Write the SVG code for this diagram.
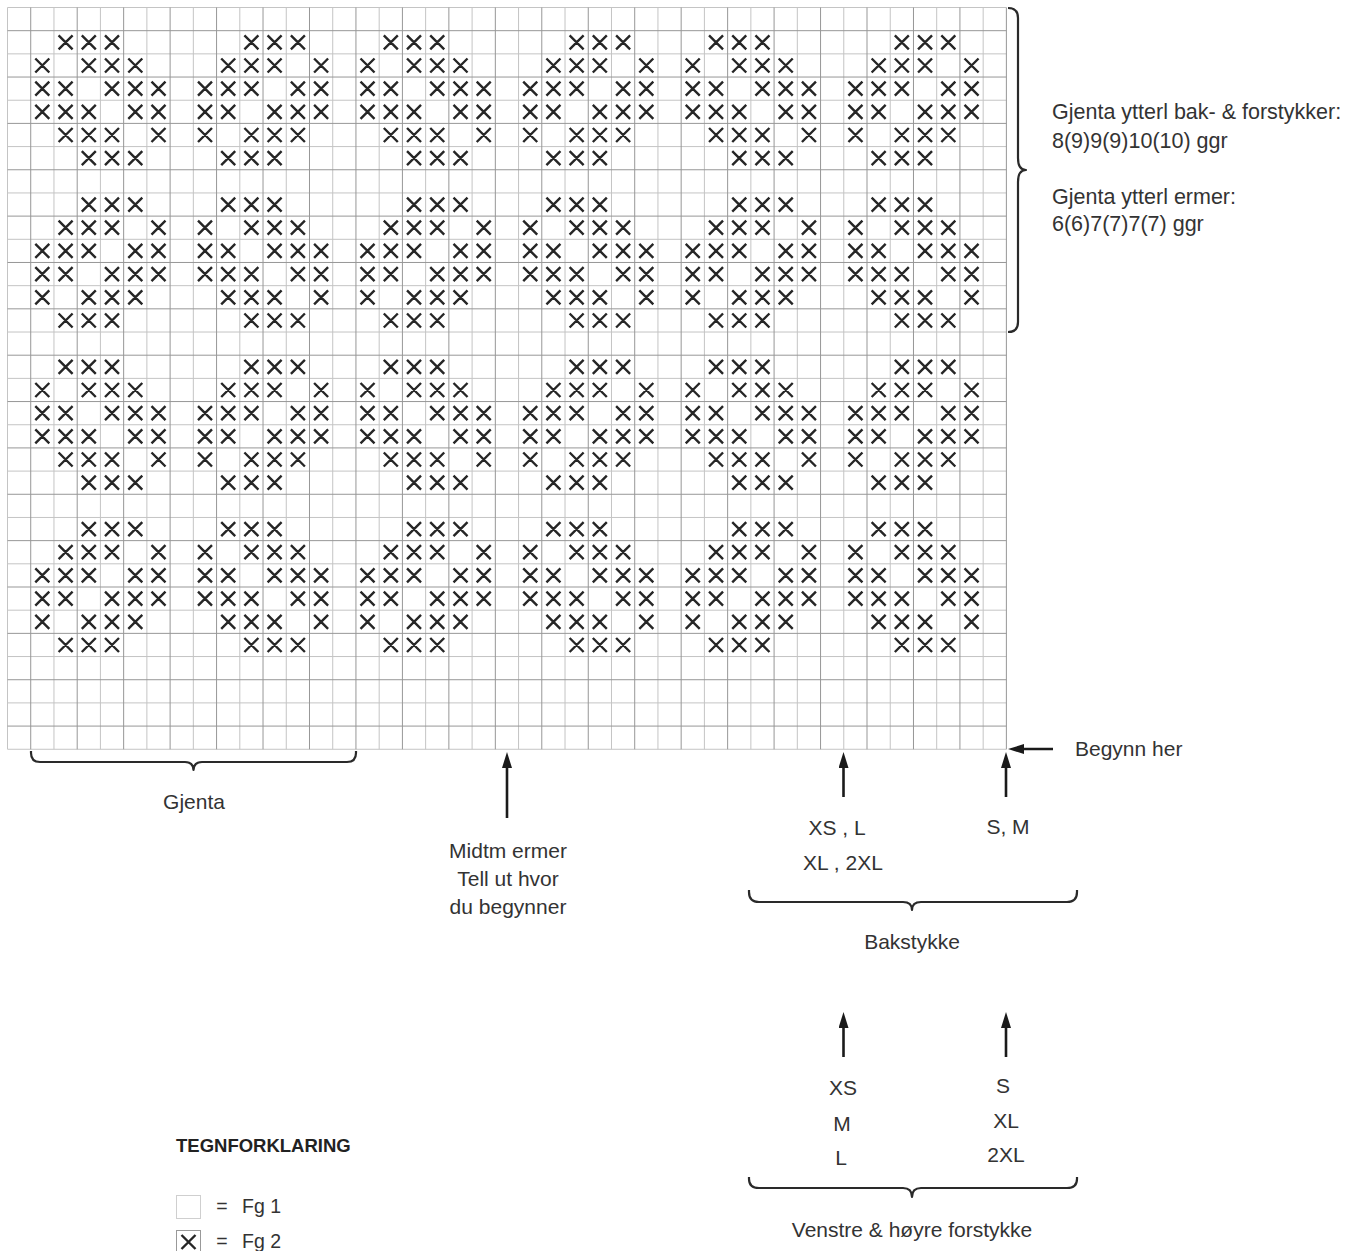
<svg xmlns="http://www.w3.org/2000/svg" width="1361" height="1251" viewBox="0 0 1361 1251">
<style>
.gl{stroke:#c4c4c4;stroke-width:1;fill:none}
.gd{stroke:#979797;stroke-width:1;fill:none}
.xm{stroke:#262626;stroke-width:2.4;fill:none}
.br{stroke:#2a2a2a;stroke-width:2.2;fill:none;stroke-linejoin:round}
.ar{stroke:#1a1a1a;stroke-width:2.6;fill:none}
text{font-family:"Liberation Sans",Arial,sans-serif;font-size:21px;fill:#333}
.c{text-anchor:middle}
.b{font-weight:bold;font-size:18.5px;fill:#222}
.lg{font-size:19.5px}
</style>
<defs>
<marker id="ah" markerUnits="userSpaceOnUse" viewBox="0 0 16 10" refX="4" refY="5" markerWidth="16" markerHeight="10" orient="auto"><path d="M0,0L16,5L0,10z" fill="#1a1a1a"/></marker>
<g id="motif" class="xm">
<path d="M51.1,4.6l14,14m0,-14l-14,14M74.3,4.6l14,14m0,-14l-14,14M97.5,4.6l14,14m0,-14l-14,14M236.9,4.6l14,14m0,-14l-14,14M260.1,4.6l14,14m0,-14l-14,14M283.4,4.6l14,14m0,-14l-14,14"/>
<path d="M27.8,27.8l14,14m0,-14l-14,14M74.3,27.8l14,14m0,-14l-14,14M97.5,27.8l14,14m0,-14l-14,14M120.8,27.8l14,14m0,-14l-14,14M213.7,27.8l14,14m0,-14l-14,14M236.9,27.8l14,14m0,-14l-14,14M260.1,27.8l14,14m0,-14l-14,14M306.6,27.8l14,14m0,-14l-14,14"/>
<path d="M27.8,51l14,14m0,-14l-14,14M51.1,51l14,14m0,-14l-14,14M97.5,51l14,14m0,-14l-14,14M120.8,51l14,14m0,-14l-14,14M144,51l14,14m0,-14l-14,14M190.5,51l14,14m0,-14l-14,14M213.7,51l14,14m0,-14l-14,14M236.9,51l14,14m0,-14l-14,14M283.4,51l14,14m0,-14l-14,14M306.6,51l14,14m0,-14l-14,14"/>
<path d="M27.8,74.1l14,14m0,-14l-14,14M51.1,74.1l14,14m0,-14l-14,14M74.3,74.1l14,14m0,-14l-14,14M120.8,74.1l14,14m0,-14l-14,14M144,74.1l14,14m0,-14l-14,14M190.5,74.1l14,14m0,-14l-14,14M213.7,74.1l14,14m0,-14l-14,14M260.1,74.1l14,14m0,-14l-14,14M283.4,74.1l14,14m0,-14l-14,14M306.6,74.1l14,14m0,-14l-14,14"/>
<path d="M51.1,97.3l14,14m0,-14l-14,14M74.3,97.3l14,14m0,-14l-14,14M97.5,97.3l14,14m0,-14l-14,14M144,97.3l14,14m0,-14l-14,14M190.5,97.3l14,14m0,-14l-14,14M236.9,97.3l14,14m0,-14l-14,14M260.1,97.3l14,14m0,-14l-14,14M283.4,97.3l14,14m0,-14l-14,14"/>
<path d="M74.3,120.5l14,14m0,-14l-14,14M97.5,120.5l14,14m0,-14l-14,14M120.8,120.5l14,14m0,-14l-14,14M213.7,120.5l14,14m0,-14l-14,14M236.9,120.5l14,14m0,-14l-14,14M260.1,120.5l14,14m0,-14l-14,14"/>
<path d="M74.3,166.9l14,14m0,-14l-14,14M97.5,166.9l14,14m0,-14l-14,14M120.8,166.9l14,14m0,-14l-14,14M213.7,166.9l14,14m0,-14l-14,14M236.9,166.9l14,14m0,-14l-14,14M260.1,166.9l14,14m0,-14l-14,14"/>
<path d="M51.1,190l14,14m0,-14l-14,14M74.3,190l14,14m0,-14l-14,14M97.5,190l14,14m0,-14l-14,14M144,190l14,14m0,-14l-14,14M190.5,190l14,14m0,-14l-14,14M236.9,190l14,14m0,-14l-14,14M260.1,190l14,14m0,-14l-14,14M283.4,190l14,14m0,-14l-14,14"/>
<path d="M27.8,213.2l14,14m0,-14l-14,14M51.1,213.2l14,14m0,-14l-14,14M74.3,213.2l14,14m0,-14l-14,14M120.8,213.2l14,14m0,-14l-14,14M144,213.2l14,14m0,-14l-14,14M190.5,213.2l14,14m0,-14l-14,14M213.7,213.2l14,14m0,-14l-14,14M260.1,213.2l14,14m0,-14l-14,14M283.4,213.2l14,14m0,-14l-14,14M306.6,213.2l14,14m0,-14l-14,14"/>
<path d="M27.8,236.4l14,14m0,-14l-14,14M51.1,236.4l14,14m0,-14l-14,14M97.5,236.4l14,14m0,-14l-14,14M120.8,236.4l14,14m0,-14l-14,14M144,236.4l14,14m0,-14l-14,14M190.5,236.4l14,14m0,-14l-14,14M213.7,236.4l14,14m0,-14l-14,14M236.9,236.4l14,14m0,-14l-14,14M283.4,236.4l14,14m0,-14l-14,14M306.6,236.4l14,14m0,-14l-14,14"/>
<path d="M27.8,259.6l14,14m0,-14l-14,14M74.3,259.6l14,14m0,-14l-14,14M97.5,259.6l14,14m0,-14l-14,14M120.8,259.6l14,14m0,-14l-14,14M213.7,259.6l14,14m0,-14l-14,14M236.9,259.6l14,14m0,-14l-14,14M260.1,259.6l14,14m0,-14l-14,14M306.6,259.6l14,14m0,-14l-14,14"/>
<path d="M51.1,282.8l14,14m0,-14l-14,14M74.3,282.8l14,14m0,-14l-14,14M97.5,282.8l14,14m0,-14l-14,14M236.9,282.8l14,14m0,-14l-14,14M260.1,282.8l14,14m0,-14l-14,14M283.4,282.8l14,14m0,-14l-14,14"/>
</g>
</defs>
<rect width="1361" height="1251" fill="#fff"/>
<g id="chart-grid">
<path class="gl" d="M7.5,7.5V749.26M53.96,7.5V749.26M100.42,7.5V749.26M146.88,7.5V749.26M193.34,7.5V749.26M239.8,7.5V749.26M286.26,7.5V749.26M332.72,7.5V749.26M379.18,7.5V749.26M425.64,7.5V749.26M472.1,7.5V749.26M518.56,7.5V749.26M565.02,7.5V749.26M611.48,7.5V749.26M657.94,7.5V749.26M704.4,7.5V749.26M750.86,7.5V749.26M797.32,7.5V749.26M843.78,7.5V749.26M890.24,7.5V749.26M936.7,7.5V749.26M983.16,7.5V749.26"/>
<path class="gl" d="M7.5,7.5H1006.39M7.5,53.86H1006.39M7.5,100.22H1006.39M7.5,146.58H1006.39M7.5,192.94H1006.39M7.5,239.3H1006.39M7.5,285.66H1006.39M7.5,332.02H1006.39M7.5,378.38H1006.39M7.5,424.74H1006.39M7.5,471.1H1006.39M7.5,517.46H1006.39M7.5,563.82H1006.39M7.5,610.18H1006.39M7.5,656.54H1006.39M7.5,702.9H1006.39M7.5,749.26H1006.39"/>
<path class="gd" d="M30.73,7.5V749.26M77.19,7.5V749.26M123.65,7.5V749.26M170.11,7.5V749.26M216.57,7.5V749.26M263.03,7.5V749.26M309.49,7.5V749.26M355.95,7.5V749.26M402.41,7.5V749.26M448.87,7.5V749.26M495.33,7.5V749.26M541.79,7.5V749.26M588.25,7.5V749.26M634.71,7.5V749.26M681.17,7.5V749.26M727.63,7.5V749.26M774.09,7.5V749.26M820.55,7.5V749.26M867.01,7.5V749.26M913.47,7.5V749.26M959.93,7.5V749.26M1006.39,7.5V749.26"/>
<path class="gd" d="M7.5,30.68H1006.39M7.5,77.04H1006.39M7.5,123.4H1006.39M7.5,169.76H1006.39M7.5,216.12H1006.39M7.5,262.48H1006.39M7.5,308.84H1006.39M7.5,355.2H1006.39M7.5,401.56H1006.39M7.5,447.92H1006.39M7.5,494.28H1006.39M7.5,540.64H1006.39M7.5,587H1006.39M7.5,633.36H1006.39M7.5,679.72H1006.39M7.5,726.08H1006.39"/>
</g>
<g id="chart-marks">
<use href="#motif" transform="translate(7.5,30.68)"/>
<use href="#motif" transform="translate(332.72,30.68)"/>
<use href="#motif" transform="translate(657.94,30.68)"/>
<use href="#motif" transform="translate(7.5,355.2)"/>
<use href="#motif" transform="translate(332.72,355.2)"/>
<use href="#motif" transform="translate(657.94,355.2)"/>
</g>
<g id="braces">
<path id="brace-right" class="br" d="M1008,8q10,0 10,10V158q0,12 8,12q-8,0 -8,12V322q0,10 -10,10"/>
<path id="brace-gjenta" class="br" d="M31,751v2q0,9 9,9H185q8,0 8.5,8q0.5,-8 8.5,-8H347q9,0 9,-9v-2"/>
<path id="brace-bak" class="br" d="M749,890v2q0,10 10,10H903q9,0 9,8q0,-8 9,-8H1067q10,0 10,-10v-2"/>
<path id="brace-for" class="br" d="M749,1177v2q0,9 10,9H903q9,0 9,9q0,-9 9,-9H1067q10,0 10,-9v-2"/>
</g>
<g id="connectors">
<line class="ar" x1="507" y1="818" x2="507" y2="764" marker-end="url(#ah)"/>
<line class="ar" x1="843.5" y1="797" x2="843.5" y2="764" marker-end="url(#ah)"/>
<line class="ar" x1="1006" y1="797" x2="1006" y2="764" marker-end="url(#ah)"/>
<line class="ar" x1="843.5" y1="1057" x2="843.5" y2="1024" marker-end="url(#ah)"/>
<line class="ar" x1="1006" y1="1057" x2="1006" y2="1024" marker-end="url(#ah)"/>
<line class="ar" x1="1053" y1="749" x2="1020" y2="749" marker-end="url(#ah)"/>
</g>
<g id="label-repeat-right">
<text x="1052" y="119" style="font-size:21.5px">Gjenta ytterl bak- &amp; forstykker:</text>
<text x="1052" y="148" style="font-size:21.5px">8(9)9(9)10(10) ggr</text>
<text x="1052" y="204" style="font-size:21.5px">Gjenta ytterl ermer:</text>
<text x="1052" y="231" style="font-size:21.5px">6(6)7(7)7(7) ggr</text>
</g>
<g id="label-begynn"><text x="1075" y="756">Begynn her</text></g>
<g id="label-gjenta"><text class="c" x="194" y="809">Gjenta</text></g>
<g id="label-midtm">
<text class="c" x="508" y="858">Midtm ermer</text>
<text class="c" x="508" y="886">Tell ut hvor</text>
<text class="c" x="508" y="914">du begynner</text>
</g>
<g id="label-bak-sizes">
<text class="c" x="837" y="835">XS , L</text>
<text class="c" x="843" y="870">XL , 2XL</text>
<text class="c" x="1008" y="834">S, M</text>
</g>
<g id="label-bak"><text class="c" x="912" y="949">Bakstykke</text></g>
<g id="label-for-sizes">
<text class="c" x="843" y="1095">XS</text>
<text class="c" x="842" y="1131">M</text>
<text class="c" x="841" y="1165">L</text>
<text class="c" x="1003" y="1093">S</text>
<text class="c" x="1006" y="1128">XL</text>
<text class="c" x="1006" y="1162">2XL</text>
</g>
<g id="label-for"><text class="c" x="912" y="1237">Venstre &amp; høyre forstykke</text></g>
<g id="legend">
<text class="b" x="176" y="1152">TEGNFORKLARING</text>
<rect x="176.5" y="1195.5" width="24" height="23" fill="#fff" stroke="#cfcfcf"/>
<text class="lg c" x="222" y="1213">=</text>
<text class="lg" x="242" y="1213">Fg 1</text>
<rect x="176.5" y="1230.5" width="24" height="24" fill="#fff" stroke="#999"/>
<path class="xm" d="M181.5,1235l14,14m0,-14l-14,14"/>
<text class="lg c" x="222" y="1248">=</text>
<text class="lg" x="242" y="1248">Fg 2</text>
</g>
</svg>
